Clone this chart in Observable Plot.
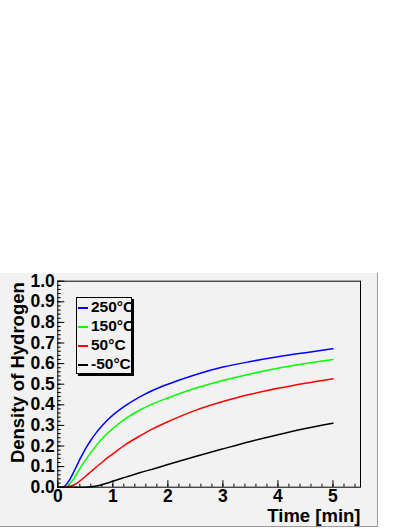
<!DOCTYPE html>
<html><head><meta charset="utf-8">
<script src="https://cdn.jsdelivr.net/npm/d3@7"></script>
<script src="https://cdn.jsdelivr.net/npm/@observablehq/plot@0.6"></script>
<style>
html,body{margin:0;padding:0;background:#fff;}
#wrap{position:relative;width:409px;height:529px;overflow:hidden;font-family:"Liberation Sans",Arial,sans-serif;}
#panel{position:absolute;left:0;top:273px;width:377px;height:253px;background:#f2f2f2;border-right:1px solid #9a9a9a;border-bottom:1px solid #9a9a9a;}
#chart{position:absolute;left:0;top:0;}
#legend{position:absolute;left:76px;top:297px;width:54px;height:75px;border:1px solid #000;background:#f2f2f2;box-shadow:2px 2px 0 #000;}
.row{position:absolute;left:1px;height:19px;line-height:19px;white-space:nowrap;font-weight:bold;font-size:15.5px;color:#000;}
.sw{display:inline-block;width:10px;height:1.5px;vertical-align:middle;margin-right:3px;}
</style></head>
<body>
<div id="wrap"><div id="panel"></div><div id="chart"></div><div id="legend"></div></div>
<script>
const times = [0,0.1,0.2,0.3,0.4,0.5,0.6,0.7,0.8,0.9,1.0,1.25,1.5,1.75,2.0,2.5,3.0,3.5,4.0,4.5,5.0];
const series = ["250°C","150°C","50°C","-50°C"];
const colors = ["#0000ff","#00ff00","#ff0000","#000000"];
const v250 = [0,0.002,0.03,0.08,0.135,0.185,0.228,0.265,0.297,0.325,0.35,0.4,0.44,0.473,0.5,0.546,0.583,0.61,0.633,0.653,0.672];
const v150 = [0,0,0.012,0.045,0.09,0.13,0.168,0.203,0.234,0.261,0.285,0.336,0.376,0.407,0.433,0.48,0.518,0.55,0.577,0.6,0.62];
const v50  = [0,0,0.002,0.012,0.03,0.052,0.075,0.098,0.12,0.142,0.162,0.21,0.25,0.287,0.318,0.373,0.416,0.451,0.48,0.505,0.527];
const vm50 = [0,0,0,0,0,0,0.002,0.006,0.012,0.02,0.029,0.05,0.071,0.09,0.11,0.149,0.186,0.222,0.255,0.285,0.311];
const yMajor = [0,0.1,0.2,0.3,0.4,0.5,0.6,0.7,0.8,0.9,1.0];
const xMajor = [0,1,2,3,4,5];
const xTitle = "Time [min]";
const yTitle = "Density of Hydrogen";

const allVals = [v250, v150, v50, vm50];
const rows = [];
series.forEach((s, i) => times.forEach((t, j) => rows.push({t, v: allVals[i][j], s})));
const yMinor = d3.range(0, 51).map(i => i / 50);
const xMinor = d3.range(0, 28).map(i => i / 5);

const font = "Liberation Sans, Arial, sans-serif";
const chart = Plot.plot({
  width: 409, height: 529,
  marginLeft: 57.3, marginRight: 49, marginTop: 280.7, marginBottom: 42.3,
  style: {background: "transparent", fontFamily: font, fontWeight: "bold", fontSize: "17px", color: "black", overflow: "visible"},
  x: {domain: [0, 5.5]},
  y: {domain: [0, 1]},
  color: {domain: series, range: colors},
  marks: [
    Plot.axisY({ticks: yMinor, tickSize: -3.5, tickFormat: () => "", label: null, stroke: "#000"}),
    Plot.axisY({ticks: yMajor, tickSize: -7, tickFormat: () => "", label: null, stroke: "#000"}),
    Plot.axisX({ticks: xMinor, tickSize: -3, tickFormat: () => "", label: null, stroke: "#000"}),
    Plot.axisX({ticks: xMajor, tickSize: -6.5, tickFormat: () => "", label: null, stroke: "#000"}),
    Plot.axisY({ticks: yMajor, tickSize: 0, tickPadding: 3, tickFormat: d3.format(".1f"), label: null, fontSize: 17.5}),
    Plot.axisX({ticks: xMajor, tickSize: 0, tickPadding: 2.5, tickFormat: d => String(d), label: null, fontSize: 17.5}),
    Plot.line(rows, {x: "t", y: "v", z: "s", stroke: "s", strokeWidth: 1.5, curve: "monotone-x"}),
    Plot.frame({stroke: "#000", strokeWidth: 1}),
    Plot.text([yTitle], {text: d => d, frameAnchor: "top-left", rotate: -90, textAnchor: "end", lineAnchor: "middle", dx: -40, dy: 1, fontSize: 18.5, fontWeight: "bold"}),
    Plot.text([xTitle], {text: d => d, frameAnchor: "bottom-right", textAnchor: "end", lineAnchor: "middle", dy: 28.5, fontSize: 18.5, fontWeight: "bold"})
  ]
});
document.getElementById("chart").appendChild(chart);

const legend = document.getElementById("legend");
series.forEach((s, i) => {
  const r = document.createElement("div");
  r.className = "row";
  r.style.top = (-1 + i * 19) + "px";
  const sw = document.createElement("span");
  sw.className = "sw";
  sw.style.background = colors[i];
  r.appendChild(sw);
  r.appendChild(document.createTextNode(s));
  legend.appendChild(r);
});
</script>
</body></html>
